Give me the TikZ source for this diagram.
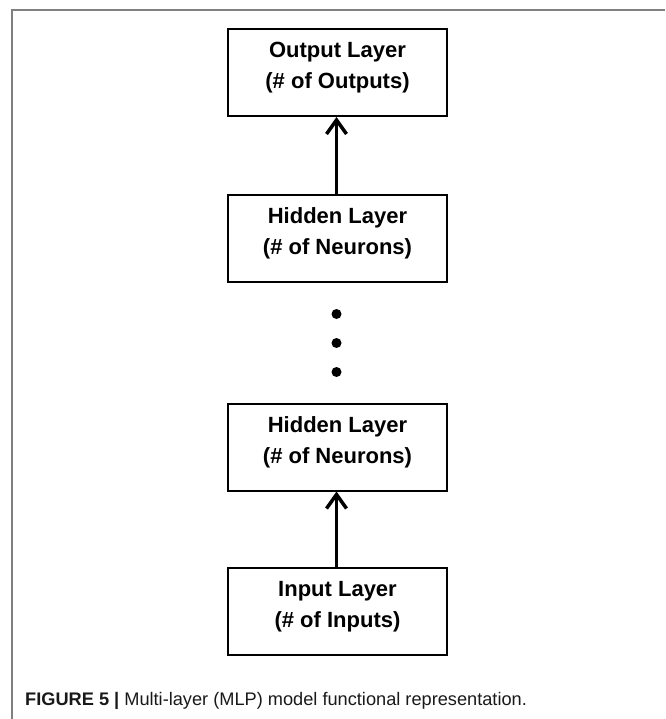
\documentclass[tikz,border=0pt]{standalone}
\usepackage{fontspec}
\setmainfont{Liberation Sans}
\usetikzlibrary{arrows.meta,calc}
\tikzset{
  layerbox/.style={draw=black, line width=2pt, minimum width=219pt, minimum height=87pt, inner sep=0pt, fill=white},
  layertext/.style={anchor=base, inner sep=0pt, font=\fontsize{22}{31}\selectfont\bfseries},
  uparrow/.style={line width=3.5pt, -{Straight Barb[length=14pt, width=20pt]}},
  dot/.style={circle, fill=black, inner sep=0pt, minimum size=10pt},
  framebar/.style={draw=black!50, line width=1.5pt},
  captext/.style={anchor=base west, inner sep=0pt, font=\fontsize{18.2}{22}\selectfont, text=black!90}
}
\newcommand{\layerlbl}[2]{\begin{tabular}[t]{@{}c@{}}#1\\#2\end{tabular}}
\begin{document}
\begin{tikzpicture}[x=1pt,y=-1pt]
\useasboundingbox (0,0) rectangle (665,719);
% frame
\coordinate (fr) at (665,10);
\coordinate (fc) at (12,10);
\coordinate (fb) at (12,719);
\draw[framebar] (fr) -- (fc) -- (fb);
% boxes
\node[layerbox] (out)  at (337.5,72.5) {};
\node[layerbox] (hid1) at (337.5,238.5) {};
\node[layerbox] (hid2) at (337.5,447) {};
\node[layerbox] (inp)  at (337.5,611.5) {};
% labels
\node[layertext] (outt)  at ($(out.north)+(0,29.5)$)  {\layerlbl{Output Layer}{(\# of Outputs)}};
\node[layertext] (hid1t) at ($(hid1.north)+(0,29.5)$) {\layerlbl{Hidden Layer}{(\# of Neurons)}};
\node[layertext] (hid2t) at ($(hid2.north)+(0,29.5)$) {\layerlbl{Hidden Layer}{(\# of Neurons)}};
\node[layertext] (inpt)  at ($(inp.north)+(0,29.5)$)  {\layerlbl{Input Layer}{(\# of Inputs)}};
% dots
\node[dot] (d1) at (336.5,314) {};
\node[dot] (d2) at (336.5,343) {};
\node[dot] (d3) at (336.5,372) {};
% arrows
\draw[uparrow] ([xshift=-1pt]hid1.north) -- ([xshift=-1pt]out.south);
\draw[uparrow] ([xshift=-1pt]inp.north) -- ([xshift=-1pt]hid2.south);
% caption
\node[captext] (cap) at (25,705) {\textbf{FIGURE 5 |} Multi-layer (MLP) model functional representation.};
\end{tikzpicture}
\end{document}
